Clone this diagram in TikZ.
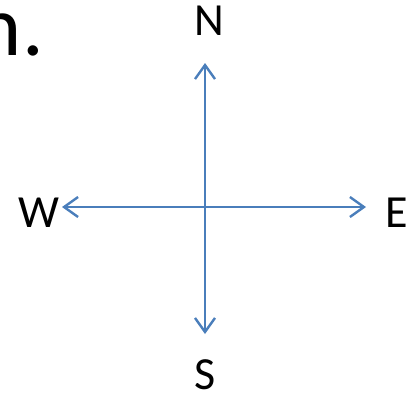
\documentclass[tikz,border=0pt]{standalone}
\usepackage{fontspec}
\setmainfont{Carlito}
\usepackage{tikz}
\usetikzlibrary{arrows.meta}
\definecolor{compassblue}{RGB}{74,126,187}

\begin{document}
\begin{tikzpicture}[
    x=1pt, y=-1pt,
    % 方向文字
    dirlabel/.style={font=\fontsize{46}{46}\selectfont, inner sep=0pt, anchor=base},
    % 指向箭头
    dirarrow/.style={draw=compassblue, line width=2.2pt,
        -{Straight Barb[length=14pt, width=20pt, line width=2.4pt]}}
]
\useasboundingbox (0,0) rectangle (414,394);

% 左上角残留文字
\node[font=\fontsize{86}{86}\selectfont, inner sep=0pt, anchor=base east] (cut) at (44,55) {n.};

% 中心与箭头端点
\coordinate (c) at (205,207);
\coordinate (tipN) at (205,63);
\coordinate (tipS) at (205,334);
\coordinate (tipW) at (62,207);
\coordinate (tipE) at (366,207);

% 方向标签
\node[dirlabel] (N) at (209,35) {N};
\node[dirlabel] (S) at (205,389) {S};
\node[dirlabel] (W) at (39,227) {W};
\node[dirlabel] (E) at (397,227) {E};

% 箭头
\draw[dirarrow] (c) -- (tipN);
\draw[dirarrow] (c) -- (tipS);
\draw[dirarrow] (c) -- (tipW);
\draw[dirarrow] (c) -- (tipE);

\end{tikzpicture}
\end{document}
